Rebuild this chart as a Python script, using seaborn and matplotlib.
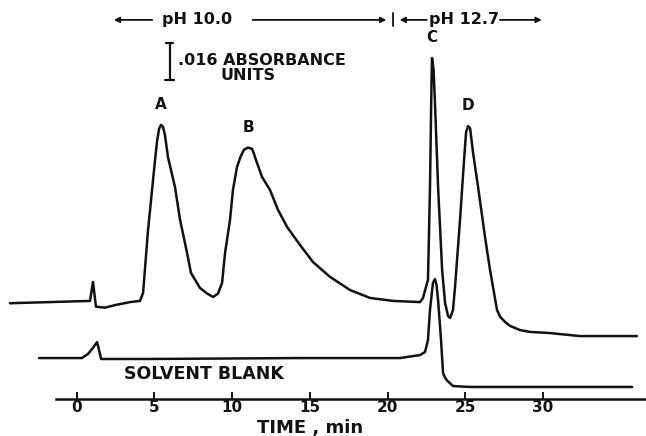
import matplotlib
matplotlib.use("Agg")
import matplotlib.pyplot as plt
import seaborn as sns
import pandas as pd

# ---- data (time in min, detector response in milli-absorbance units) ----
sample_time = [-4.28, -1.70, 0.87, 1.06, 1.25, 1.83, 2.48, 3.44, 4.08, 4.28, 4.60, 5.05,
               5.18, 5.31, 5.43, 5.56, 5.69, 5.88, 6.33, 6.66, 7.11, 7.36, 7.94, 8.40,
               8.78, 9.10, 9.36, 9.55, 9.87, 10.06, 10.32, 10.55, 10.77, 11.03, 11.29,
               11.41, 11.54, 11.93, 12.44, 12.96, 13.54, 14.37, 15.21, 16.30, 17.59,
               18.87, 20.35, 22.09, 22.28, 22.60, 22.73, 22.83, 22.86, 22.96, 23.05,
               23.25, 23.51, 23.70, 23.89, 24.02, 24.21, 24.34, 24.66, 24.92, 25.05,
               25.18, 25.31, 25.50, 25.82, 26.27, 26.59, 27.04, 27.24, 27.56, 27.88,
               28.52, 29.16, 30.45, 32.38, 36.04]
sample_resp = [41.4, 41.9, 42.4, 50.6, 39.9, 39.5, 40.6, 41.9, 42.4, 45.8, 73.1, 103.3,
               111.5, 116.8, 118.5, 117.7, 114.0, 104.6, 91.7, 77.4, 63.1, 54.5, 48.0, 45.6,
               44.1, 45.6, 50.2, 63.1, 77.4, 90.4, 100.3, 104.8, 107.8, 108.7, 108.1,
               106.0, 103.3, 96.0, 90.4, 81.7, 74.4, 66.6, 59.2, 52.8, 47.1,
               43.7, 42.4, 41.9, 43.7, 51.5, 91.7, 137.9, 147.4, 142.3, 128.0,
               91.7, 55.8, 41.5, 35.9, 35.0, 38.5, 48.4, 77.4, 103.3, 115.4,
               118.0, 117.0, 106.4, 91.7, 70.0, 55.8, 38.5, 35.5, 33.3, 31.6,
               29.8, 29.0, 28.5, 27.2, 27.2]

blank_time = [-2.41, 0.35, 0.74, 1.06, 1.32, 1.45, 1.58, 4.73, 14.37, 20.80, 22.09, 22.41,
              22.60, 22.73, 22.92, 23.05, 23.15, 23.25, 23.44, 23.57, 23.70, 23.83, 24.21,
              25.31, 35.73]
blank_resp = [17.7, 17.7, 19.5, 22.1, 24.6, 21.2, 17.3, 17.3, 17.7, 17.7, 19.0, 20.3,
              25.5, 38.5, 50.2, 51.9, 49.3, 42.8, 25.5, 11.2, 9.2, 8.0, 5.6,
              5.2, 5.2]

tick_values = [0, 5, 10, 15, 20, 25, 30]
peak_labels = ["A", "B", "C", "D"]
peak_times = [5.43, 11.03, 22.86, 25.18]
peak_heights = [118.5, 108.7, 147.4, 118.0]
scale_bar_mau = 16  # .016 absorbance units
ph_switch_time = 20.35

df = pd.concat([
    pd.DataFrame({"time": sample_time, "resp": sample_resp, "trace": "sample"}),
    pd.DataFrame({"time": blank_time, "resp": blank_resp, "trace": "blank"}),
])

sns.set_theme(style="white")
plt.rcParams["font.family"] = ["DejaVu Sans"]

fig = plt.figure(figsize=(6.46, 4.36), dpi=100)
ax = fig.add_axes([0, 0, 1, 1])
ink = "#111111"

sns.lineplot(data=df, x="time", y="resp", units="trace", estimator=None, sort=False,
             color=ink, linewidth=1.8, ax=ax, legend=False)

ax.set_xlim(-4.92, 36.62)
ax.set_ylim(-16.0, 172.5)

for s in ["top", "right", "left"]:
    ax.spines[s].set_visible(False)
ax.spines["bottom"].set_position(("data", 0))
ax.spines["bottom"].set_bounds(-1.32, 36.62)
ax.spines["bottom"].set_linewidth(1.8)
ax.spines["bottom"].set_color(ink)
ax.set_xticks(tick_values)
ax.set_xticklabels([str(v) for v in tick_values], fontsize=11, fontweight="bold", color=ink)
ax.tick_params(axis="x", direction="in", length=5, width=1.4, color=ink, pad=1,
               bottom=True)
ax.set_yticks([])
ax.set_xlabel("")
ax.set_ylabel("")
ax.text(15.0, -12.5, "TIME , min", ha="center", va="center", fontsize=13,
        fontweight="bold", color=ink)

# peak letters
for lab, t, h in zip(peak_labels, peak_times, peak_heights):
    ax.text(t, h + 5.5, lab, ha="center", va="bottom", fontsize=11,
            fontweight="bold", color=ink)

ax.text(8.2, 10.8, "SOLVENT BLANK", ha="center", va="center",
        fontsize=12.5, fontweight="bold", color=ink)

# absorbance scale bar
bar_t = 6.0
bar_top = 153.9
ax.plot([bar_t, bar_t], [bar_top - scale_bar_mau, bar_top], color=ink, lw=1.6)
ax.plot([bar_t - 0.22, bar_t + 0.22], [bar_top, bar_top], color=ink, lw=1.6)
ax.plot([bar_t - 0.28, bar_t + 0.28], [bar_top - scale_bar_mau, bar_top - scale_bar_mau],
        color=ink, lw=1.6)
ax.text(6.5, 146.5, ".016 ABSORBANCE", ha="left", va="center", fontsize=11.5,
        fontweight="bold", color=ink)
ax.text(11.0, 140.0, "UNITS", ha="center", va="center", fontsize=11.5,
        fontweight="bold", color=ink)

# pH program bar
yb = 163.9
arrow = dict(arrowstyle="-|>", color=ink, lw=1.3, mutation_scale=8)
ax.annotate("", xy=(2.22, yb), xytext=(5.05, yb), arrowprops=arrow)
ax.text(7.72, yb, "pH 10.0", ha="center", va="center", fontsize=11.5,
        fontweight="bold", color=ink)
ax.annotate("", xy=(ph_switch_time - 0.25, yb), xytext=(11.15, yb), arrowprops=arrow)
ax.plot([ph_switch_time, ph_switch_time], [yb - 2.8, yb + 2.8], color=ink, lw=1.3)
ax.annotate("", xy=(ph_switch_time + 0.25, yb), xytext=(22.7, yb), arrowprops=arrow)
ax.text(24.9, yb, "pH 12.7", ha="center", va="center", fontsize=11.5,
        fontweight="bold", color=ink)
ax.annotate("", xy=(30.1, yb), xytext=(27.05, yb), arrowprops=arrow)

fig.savefig("out.png", dpi=100, facecolor="white")
